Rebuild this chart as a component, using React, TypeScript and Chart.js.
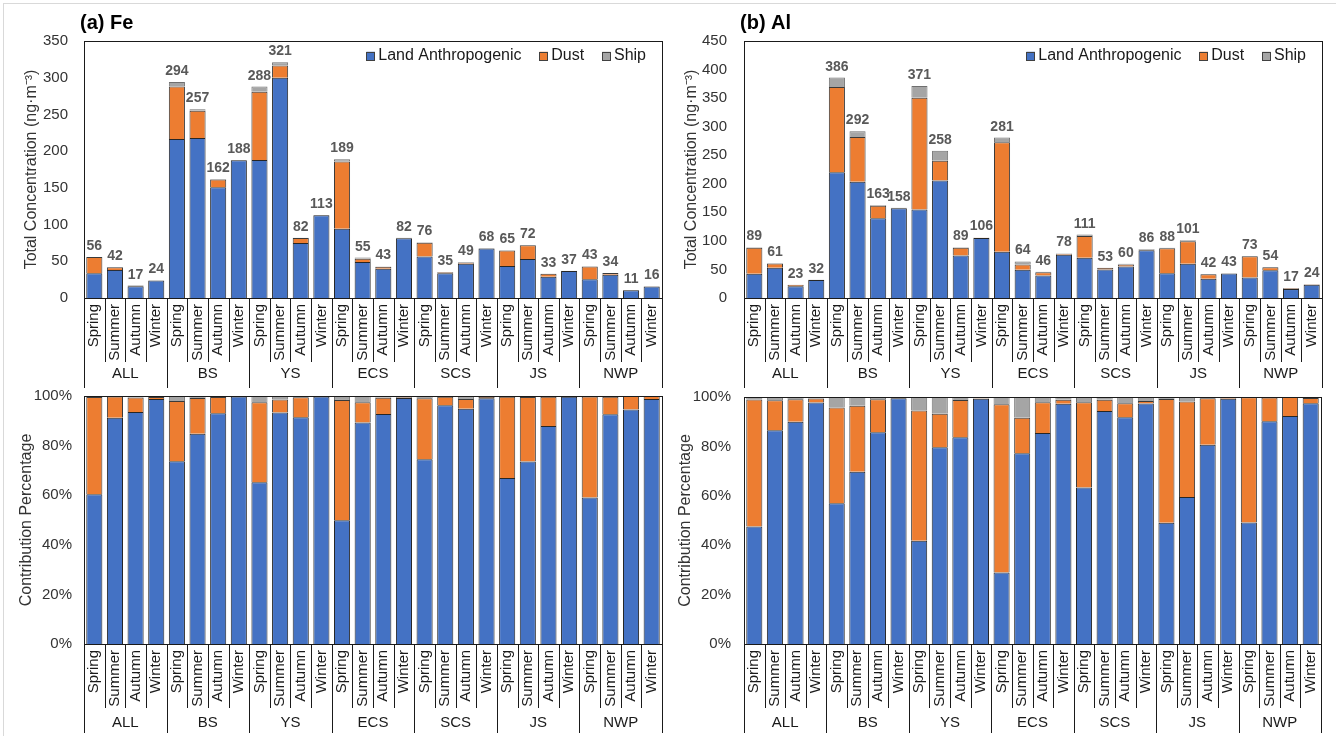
import React, { useEffect, useRef } from "react";
import { Chart, registerables } from "chart.js";

Chart.register(...registerables);

const FONT = "'Liberation Sans', Arial, sans-serif";

const regions = ["ALL", "BS", "YS", "ECS", "SCS", "JS", "NWP"];
const seasons = ["Spring", "Summer", "Autumn", "Winter"];
const categoryLabels = regions.flatMap((r) => seasons.map((s) => `${r} ${s}`));

const seriesNames = ["Land Anthropogenic", "Dust", "Ship"];
const seriesColors = ["#4472C4", "#ED7D31", "#A5A5A5"];
const seriesBorders = ["#262626", "#3a3a3a", "#6f6f6f"];

// (a) Fe, ng·m-3
const feLand = [33.8, 38.3, 15.9, 23.7, 216.7, 217.9, 150.8, 187.6, 187.8, 299.8, 75.0, 112.8, 94.3, 49.1, 39.9, 81.3, 56.6, 33.7, 46.5, 67.4, 43.5, 53.0, 29.0, 36.9, 25.4, 31.5, 10.4, 15.8];
const feDust = [22.0, 3.6, 1.0, 0.2, 71.4, 37.0, 10.5, 0.2, 93.0, 16.7, 6.6, 0.1, 91.7, 4.5, 2.8, 0.3, 18.7, 1.2, 1.9, 0.3, 21.3, 18.7, 3.9, 0.0, 17.5, 2.4, 0.6, 0.2];
const feShip = [0.2, 0.1, 0.1, 0.1, 5.9, 2.1, 0.7, 0.2, 7.2, 4.5, 0.4, 0.1, 3.0, 1.4, 0.3, 0.4, 0.7, 0.1, 0.6, 0.3, 0.2, 0.3, 0.1, 0.1, 0.1, 0.1, 0.0, 0.0];

// (b) Al, ng·m-3
const alLand = [42.3, 52.8, 20.7, 31.3, 220.0, 203.5, 139.7, 157.2, 155.1, 205.6, 74.5, 105.2, 81.2, 49.4, 39.3, 75.9, 70.3, 50.0, 55.1, 83.7, 43.2, 60.1, 33.9, 42.7, 35.9, 48.7, 15.7, 23.4];
const alDust = [45.8, 7.4, 2.1, 0.5, 149.4, 78.3, 21.8, 0.3, 195.5, 34.8, 13.4, 0.3, 191.6, 9.2, 5.7, 1.2, 38.3, 2.4, 3.4, 0.9, 44.1, 39.1, 7.9, 0.2, 37.0, 5.2, 1.3, 0.5];
const alShip = [0.9, 0.8, 0.2, 0.2, 16.6, 10.2, 1.5, 0.5, 20.4, 17.6, 1.1, 0.5, 8.2, 5.4, 1.0, 0.9, 2.4, 0.6, 1.5, 1.4, 0.7, 1.8, 0.2, 0.1, 0.1, 0.1, 0.0, 0.1];

const feAxis = { max: 350, step: 50 };
const alAxis = { max: 450, step: 50 };
const pctAxis = { max: 100, step: 20 };

type PanelProps = {
  left: number;
  top: number;
  width: number;
  height: number;
  land: number[];
  dust: number[];
  ship: number[];
  mode: "abs" | "pct";
  axis: { max: number; step: number };
  yTitle: string;
  title?: string;
  yAxisWidth: number;
  padTop: number;
  padRight: number;
  titlePad: number;
  tickPad: number;
  xAxisHeight: number;
  seasonLineLen: number;
  regionLineLen: number;
  regionLabelOffset: number;
};

function Panel(p: PanelProps) {
  const ref = useRef<HTMLCanvasElement>(null);
  useEffect(() => {
    const totals = p.land.map((v, i) => v + p.dust[i] + p.ship[i]);
    const series = [p.land, p.dust, p.ship].map((arr) =>
      p.mode === "pct" ? arr.map((v, i) => (v / totals[i]) * 100) : arr
    );

    const decor = {
      id: "decor",
      afterDraw(chart: any) {
        const { ctx, chartArea: a, scales } = chart;
        const xs = scales.x;
        const ys = scales.y;
        const n = categoryLabels.length;
        ctx.save();
        // plot box
        ctx.strokeStyle = "#1a1a1a";
        ctx.lineWidth = 1;
        ctx.strokeRect(
          Math.round(a.left) + 0.5,
          Math.round(a.top) + 0.5,
          Math.round(a.right - a.left),
          Math.round(a.bottom - a.top)
        );
        const centers = categoryLabels.map((_, i) => xs.getPixelForValue(i));
        const bounds: number[] = [];
        for (let i = 0; i <= n; i++) {
          if (i === 0) bounds.push(a.left);
          else if (i === n) bounds.push(a.right);
          else bounds.push((centers[i - 1] + centers[i]) / 2);
        }
        ctx.beginPath();
        bounds.forEach((bx, i) => {
          const len = i % 4 === 0 ? p.regionLineLen : p.seasonLineLen;
          const x = Math.round(bx) + 0.5;
          ctx.moveTo(x, a.bottom);
          ctx.lineTo(x, a.bottom + len);
        });
        ctx.stroke();

        // season labels
        ctx.fillStyle = "#1a1a1a";
        ctx.font = `15px ${FONT}`;
        ctx.textAlign = "right";
        ctx.textBaseline = "middle";
        centers.forEach((cx, i) => {
          ctx.save();
          ctx.translate(cx, a.bottom + 6);
          ctx.rotate(-Math.PI / 2);
          ctx.fillText(seasons[i % 4], 0, 0);
          ctx.restore();
        });
        // region labels
        ctx.textAlign = "center";
        regions.forEach((r, k) => {
          const cx = (bounds[k * 4] + bounds[k * 4 + 4]) / 2;
          ctx.fillText(r, cx, a.bottom + p.regionLabelOffset);
        });

        if (p.mode === "abs") {
          // total value labels
          ctx.font = `bold 14px ${FONT}`;
          ctx.fillStyle = "#595959";
          ctx.textAlign = "center";
          ctx.textBaseline = "alphabetic";
          totals.forEach((t, i) => {
            ctx.fillText(String(Math.round(t)), centers[i], ys.getPixelForValue(t) - 7);
          });
          // legend
          ctx.font = `16px ${FONT}`;
          ctx.textBaseline = "middle";
          ctx.textAlign = "left";
          const ly = a.top + 15;
          let x = a.right - 16;
          for (let k = seriesNames.length - 1; k >= 0; k--) {
            const w = ctx.measureText(seriesNames[k]).width;
            const tx = x - w;
            ctx.fillStyle = "#1a1a1a";
            ctx.fillText(seriesNames[k], tx, ly);
            const bs = 8.5;
            const bx = tx - 3.3 - bs;
            ctx.fillStyle = seriesColors[k];
            ctx.fillRect(bx, ly - bs / 2, bs, bs);
            ctx.strokeStyle = "#404040";
            ctx.lineWidth = 1;
            ctx.strokeRect(Math.round(bx) + 0.5, Math.round(ly - bs / 2) + 0.5, 8, 8);
            x = bx - 18;
          }
        }

        if (p.title) {
          ctx.font = `bold 20px ${FONT}`;
          ctx.fillStyle = "#000";
          ctx.textAlign = "left";
          ctx.textBaseline = "middle";
          ctx.fillText(p.title, a.left - 4, a.top - 18);
        }
        ctx.restore();
      },
    };

    const chart = new Chart(ref.current as HTMLCanvasElement, {
      type: "bar",
      data: {
        labels: categoryLabels,
        datasets: seriesNames.map((name, k) => ({
          label: name,
          data: series[k],
          backgroundColor: seriesColors[k],
          borderColor: seriesBorders[k],
          borderWidth: 1,
          barPercentage: 0.78,
          categoryPercentage: 1,
        })),
      },
      options: {
        animation: false,
        responsive: false,
        maintainAspectRatio: false,
        devicePixelRatio: 1,
        layout: { padding: { top: p.padTop, right: p.padRight, left: 0, bottom: 0 } },
        plugins: {
          legend: { display: false },
          tooltip: { enabled: false },
          title: { display: false },
        },
        scales: {
          x: {
            stacked: true,
            grid: { display: false },
            border: { display: false },
            ticks: { display: false },
            afterFit: (s: any) => {
              s.height = p.xAxisHeight;
            },
          },
          y: {
            stacked: true,
            min: 0,
            max: p.axis.max,
            grid: { display: false, drawTicks: false },
            border: { display: false },
            ticks: {
              stepSize: p.axis.step,
              padding: p.tickPad,
              color: "#333333",
              font: { family: FONT, size: 15 },
              callback: (v: any) => (p.mode === "pct" ? `${v}%` : `${v}`),
            },
            title: {
              display: true,
              text: p.yTitle,
              color: "#333333",
              font: { family: FONT, size: 16 },
              padding: { top: p.titlePad, bottom: 0 },
            },
            afterFit: (s: any) => {
              s.width = p.yAxisWidth;
            },
          },
        },
      } as any,
      plugins: [decor],
    });
    return () => chart.destroy();
  }, []);
  return (
    <canvas
      ref={ref}
      width={p.width}
      height={p.height}
      style={{ position: "absolute", left: p.left, top: p.top, width: p.width, height: p.height }}
    />
  );
}

export default function App() {
  const concTitle = "Total Concentration (ng·m⁻³)";
  const pctTitle = "Contribution Percentage";
  return (
    <div
      style={{
        position: "fixed",
        left: 0,
        top: 0,
        width: 1336,
        height: 736,
        background: "#ffffff",
        overflow: "hidden",
      }}
    >
      <div
        style={{
          position: "absolute",
          left: 3,
          top: 3,
          width: 1340,
          height: 740,
          border: "1px solid #d9d9d9",
        }}
      />
      <Panel
        left={0}
        top={0}
        width={668}
        height={388}
        land={feLand}
        dust={feDust}
        ship={feShip}
        mode="abs"
        axis={feAxis}
        yTitle={concTitle}
        title="(a) Fe"
        yAxisWidth={84}
        padTop={41}
        padRight={6}
        titlePad={22}
        tickPad={16}
        xAxisHeight={90}
        seasonLineLen={64}
        regionLineLen={90}
        regionLabelOffset={76}
      />
      <Panel
        left={668}
        top={0}
        width={668}
        height={388}
        land={alLand}
        dust={alDust}
        ship={alShip}
        mode="abs"
        axis={alAxis}
        yTitle={concTitle}
        title="(b) Al"
        yAxisWidth={76}
        padTop={41}
        padRight={14}
        titlePad={14}
        tickPad={17}
        xAxisHeight={90}
        seasonLineLen={64}
        regionLineLen={90}
        regionLabelOffset={76}
      />
      <Panel
        left={0}
        top={375}
        width={668}
        height={361}
        land={feLand}
        dust={feDust}
        ship={feShip}
        mode="pct"
        axis={pctAxis}
        yTitle={pctTitle}
        yAxisWidth={84}
        padTop={13}
        padRight={6}
        titlePad={17}
        tickPad={12}
        xAxisHeight={92}
        seasonLineLen={64}
        regionLineLen={89}
        regionLabelOffset={79}
      />
      <Panel
        left={668}
        top={375}
        width={668}
        height={361}
        land={alLand}
        dust={alDust}
        ship={alShip}
        mode="pct"
        axis={pctAxis}
        yTitle={pctTitle}
        yAxisWidth={76}
        padTop={13}
        padRight={15}
        titlePad={8}
        tickPad={13}
        xAxisHeight={92}
        seasonLineLen={64}
        regionLineLen={89}
        regionLabelOffset={79}
      />
    </div>
  );
}
